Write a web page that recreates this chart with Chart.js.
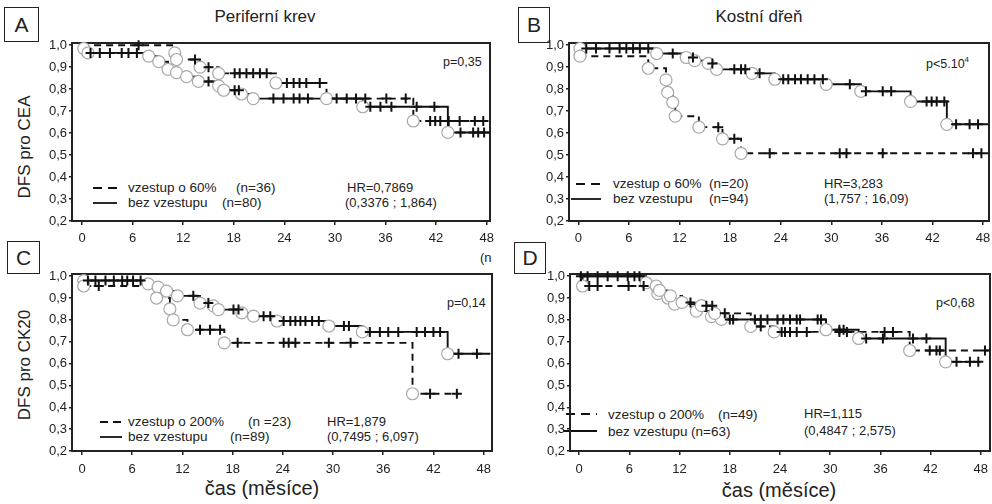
<!DOCTYPE html>
<html>
<head>
<meta charset="utf-8">
<script src="https://cdn.jsdelivr.net/npm/chart.js@4.4.1/dist/chart.umd.min.js"></script>
<style>
  html, body { margin: 0; padding: 0; background: #fff; }
  body { width: 992px; height: 504px; position: relative; overflow: hidden;
         font-family: "Liberation Sans", Arial, sans-serif; color: #222; }
  canvas { position: absolute; }
  .t { position: absolute; white-space: nowrap; transform: translateY(-50%); font-size: 13px; line-height: 16px; }
  .lg { font-size: 13.5px; }
  .c { transform: translate(-50%, -50%); }
  .title { font-size: 17px; line-height: 20px; }
  .ylab { font-size: 17px; line-height: 20px; transform: translate(-50%, -50%) rotate(-90deg); }
  .xlab { font-size: 20px; line-height: 24px; }
  .box { position: absolute; border: 1.5px solid #222; box-sizing: border-box;
         font-size: 21px; display: flex; align-items: center; justify-content: center; }
  svg { position: absolute; left: 0; top: 0; pointer-events: none; }
</style>
</head>
<body>

<div class="box" style="left:4px;top:7px;width:35px;height:35px">A</div>
<div class="box" style="left:518px;top:7px;width:32px;height:36px">B</div>
<div class="box" style="left:7px;top:241px;width:33px;height:33px">C</div>
<div class="box" style="left:514px;top:242px;width:32px;height:32px">D</div>

<div class="t c title" style="left:265px;top:17px">Periferní krev</div>
<div class="t c title" style="left:759px;top:17px">Kostní dřeň</div>

<div class="t c ylab" style="left:25px;top:147px">DFS pro CEA</div>
<div class="t c ylab" style="left:25px;top:365px">DFS pro CK20</div>
<div class="t c xlab" style="left:262px;top:488px">čas (měsíce)</div>
<div class="t c xlab" style="left:779px;top:490px">čas (měsíce)</div>

<div class="t" style="left:443px;top:62px;font-size:12.5px">p=0,35</div>
<div class="t" style="left:926px;top:62px;font-size:12.5px">p&lt;5.10<sup style="font-size:8px">4</sup></div>
<div class="t" style="left:447px;top:303px;font-size:12.5px">p=0,14</div>
<div class="t" style="left:936px;top:303px;font-size:12.5px">p&lt;0,68</div>
<div class="t" style="left:480px;top:258px">(n</div>

<div class="t lg" style="left:128px;top:188px">vzestup o 60%</div>
<div class="t lg" style="left:236px;top:188px">(n=36)</div>
<div class="t lg" style="left:128px;top:203px">bez vzestupu</div>
<div class="t lg" style="left:222px;top:203px">(n=80)</div>
<div class="t" style="left:347px;top:188px">HR=0,7869</div>
<div class="t" style="left:345px;top:203px">(0,3376 ; 1,864)</div>

<div class="t lg" style="left:613px;top:184px">vzestup o 60%</div>
<div class="t lg" style="left:709px;top:184px">(n=20)</div>
<div class="t lg" style="left:613px;top:199px">bez vzestupu</div>
<div class="t lg" style="left:709px;top:199px">(n=94)</div>
<div class="t" style="left:824px;top:184px">HR=3,283</div>
<div class="t" style="left:824px;top:199px">(1,757 ; 16,09)</div>

<div class="t lg" style="left:128px;top:422px">vzestup o 200%</div>
<div class="t lg" style="left:248px;top:422px">(n =23)</div>
<div class="t lg" style="left:128px;top:437px">bez vzestupu</div>
<div class="t lg" style="left:230px;top:437px">(n=89)</div>
<div class="t" style="left:327px;top:422px">HR=1,879</div>
<div class="t" style="left:327px;top:437px">(0,7495 ; 6,097)</div>

<div class="t lg" style="left:608px;top:415px">vzestup o 200%</div>
<div class="t lg" style="left:718px;top:415px">(n=49)</div>
<div class="t lg" style="left:608px;top:432px">bez vzestupu</div>
<div class="t lg" style="left:691px;top:432px">(n=63)</div>
<div class="t" style="left:804px;top:414px">HR=1,115</div>
<div class="t" style="left:804px;top:431px">(0,4847 ; 2,575)</div>

<svg width="992" height="504">
  <g stroke="#111" stroke-width="1.8">
    <line x1="93" y1="188" x2="117" y2="188" stroke-dasharray="9,6"/>
    <line x1="93" y1="203" x2="117" y2="203"/>
    <line x1="576" y1="184" x2="601" y2="184" stroke-dasharray="9,6"/>
    <line x1="571" y1="199" x2="601" y2="199"/>
    <line x1="100" y1="422" x2="121" y2="422" stroke-dasharray="8,5"/>
    <line x1="100" y1="437" x2="122" y2="437"/>
    <line x1="566" y1="414" x2="597" y2="414" stroke-dasharray="9,6"/>
    <line x1="563" y1="431" x2="597" y2="431"/>
  </g>
</svg>

<script>
// ticks shared by all four panels
const xTicks = [0, 6, 12, 18, 24, 30, 36, 42, 48];
const yTicks = [0.2, 0.3, 0.4, 0.5, 0.6, 0.7, 0.8, 0.9, 1.0];

// A - Periferní krev, CEA  (events = [month, DFS after drop], censored = months)
const aRiseEvents = [[11.0, 0.965], [11.2, 0.935], [14.0, 0.90], [16.2, 0.872], [23.0, 0.828], [29.0, 0.757], [39.3, 0.655]];
const aRiseCensored = [6.7, 13.4, 15.0, 18.1, 18.7, 19.5, 20.3, 21.1, 21.9, 24.3, 25.1, 25.8, 26.6, 28.2, 33.6, 36.1, 38.4, 41.3, 41.9, 42.5, 43.5, 44.8, 46.6, 47.6];
const aRiseEnd = 48.2;
const aNoRiseEvents = [[0.2, 0.985], [0.7, 0.965], [7.9, 0.95], [9.1, 0.925], [10.2, 0.89], [11.2, 0.875], [12.4, 0.857], [13.8, 0.835], [16.2, 0.815], [16.8, 0.795], [18.9, 0.778], [20.3, 0.757], [33.3, 0.72], [43.4, 0.603]];
const aNoRiseCensored = [1.0, 2.1, 3.3, 4.7, 5.5, 6.5, 15.0, 18.1, 18.6, 22.7, 23.9, 25.1, 25.8, 26.8, 30.2, 31.4, 32.5, 34.2, 35.4, 36.7, 39.7, 41.8, 44.9, 46.4, 47.0, 47.7];
const aNoRiseEnd = 48.4;

// B - Kostní dřeň, CEA
const bRiseEvents = [[0.2, 0.95], [8.3, 0.895], [10.4, 0.842], [10.6, 0.785], [11.2, 0.74], [11.5, 0.677], [14.3, 0.627], [17.1, 0.574], [19.3, 0.508]];
const bRiseCensored = [16.6, 18.5, 22.7, 31.0, 31.8, 36.1, 46.8, 47.8];
const bRiseEnd = 48.6;
const bNoRiseEvents = [[0.2, 0.985], [9.3, 0.962], [12.8, 0.944], [13.8, 0.93], [15.4, 0.917], [16.4, 0.89], [20.6, 0.872], [23.3, 0.845], [29.4, 0.822], [33.5, 0.79], [39.4, 0.744], [43.7, 0.64]];
const bNoRiseCensored = [0.95, 2.1, 3.7, 4.9, 5.7, 6.5, 7.3, 8.3, 11.2, 13.6, 15.9, 18.5, 19.3, 19.8, 21.5, 24.3, 24.9, 25.7, 26.4, 27.2, 28.0, 29.0, 32.2, 34.1, 36.1, 37.1, 41.3, 41.9, 42.5, 43.4, 44.8, 46.4, 47.4];
const bNoRiseEnd = 48.6;

// C - Periferní krev, CK20
const cRiseEvents = [[0.2, 0.955], [8.9, 0.9], [10.5, 0.85], [10.9, 0.8], [12.6, 0.755], [17.0, 0.695], [39.5, 0.462]];
const cRiseCensored = [2.0, 14.1, 15.3, 16.5, 18.6, 24.1, 24.7, 25.5, 29.5, 32.1, 41.6, 44.8];
const cRiseEnd = 45.0;
const cNoRiseEvents = [[0.2, 0.98], [7.9, 0.965], [9.1, 0.95], [10.1, 0.932], [11.4, 0.91], [14.1, 0.877], [15.7, 0.864], [16.3, 0.847], [19.1, 0.832], [20.5, 0.817], [23.3, 0.795], [29.5, 0.772], [33.5, 0.745], [43.7, 0.645]];
const cNoRiseCensored = [0.7, 1.6, 2.8, 3.8, 4.8, 5.4, 6.1, 7.0, 13.3, 15.1, 18.1, 18.7, 21.7, 22.5, 24.1, 24.9, 25.5, 26.1, 26.7, 27.5, 28.3, 31.3, 31.9, 34.4, 35.6, 36.6, 37.8, 40.0, 41.0, 42.0, 42.8, 45.0, 47.2];
const cNoRiseEnd = 48.8;

// D - Kostní dřeň, CK20
const dRiseEvents = [[0.4, 0.955], [9.6, 0.935], [10.9, 0.91], [12.3, 0.88], [14.6, 0.865], [16.2, 0.83], [20.5, 0.77], [23.3, 0.745], [39.5, 0.66]];
const dRiseCensored = [1.2, 2.2, 5.9, 7.7, 13.3, 15.2, 15.9, 17.4, 21.7, 24.2, 24.6, 25.2, 26.0, 27.2, 31.1, 32.0, 36.5, 37.5, 41.9, 42.7, 43.1, 48.5];
const dRiseEnd = 48.9;
const dNoRiseEvents = [[8.0, 0.97], [9.2, 0.955], [9.4, 0.92], [10.6, 0.9], [11.4, 0.872], [14.0, 0.84], [15.8, 0.815], [17.0, 0.802], [29.5, 0.755], [33.4, 0.715], [43.8, 0.608]];
const dNoRiseCensored = [0.2, 1.0, 2.2, 3.4, 4.6, 5.8, 6.6, 7.2, 18.0, 18.4, 21.0, 21.7, 22.5, 23.7, 24.4, 25.2, 26.0, 26.4, 28.5, 28.9, 31.1, 31.6, 34.3, 36.3, 39.9, 41.5, 45.1, 46.7, 47.7];
const dNoRiseEnd = 48.0;

Chart.defaults.font.family = '"Liberation Sans", Arial, sans-serif';
Chart.defaults.color = '#222';

function levelAt(events, t) {
    let s = 1;
    for (const [et, es] of events) if (et <= t) s = es;
    return s;
}

// one KM group -> step line + event circles + censor crosses
function curveSets(events, censored, end, dashed) {
    const line = [{ x: 0, y: 1 }]
        .concat(events.map(([x, y]) => ({ x, y })))
        .concat([{ x: end, y: levelAt(events, end) }]);
    return [
        {
            type: 'line', data: line, stepped: true, fill: false,
            borderColor: '#111', borderWidth: 1.9, borderDash: dashed ? [7, 5] : [],
            pointRadius: 0, order: 3
        },
        {
            type: 'scatter', data: events.map(([x, y]) => ({ x, y })), showLine: false,
            pointStyle: 'circle', pointRadius: 6, pointBorderWidth: 1.2,
            pointBorderColor: '#a8a8a8', pointBackgroundColor: '#fff', order: 2, clip: false
        },
        {
            type: 'scatter', data: censored.map(t => ({ x: t, y: levelAt(events, t) })), showLine: false,
            pointStyle: 'cross', pointRadius: 5, pointBorderWidth: 2,
            pointBorderColor: '#111', order: 1, clip: false
        }
    ];
}

const frame = {
    id: 'frame',
    beforeDatasetsDraw(chart) {
        const { ctx, chartArea: a } = chart;
        ctx.save();
        ctx.strokeStyle = '#222';
        ctx.lineWidth = 2;
        ctx.strokeRect(a.left, a.top, a.right - a.left, a.bottom - a.top);
        ctx.restore();
    }
};

const panels = [
    { left: 0, top: 0, width: 500, height: 250, area: { l: 72, t: 43, r: 490, b: 221 }, xMin: -1.2, xMax: 48.4, tickPad: 6,
      sets: [...curveSets(aRiseEvents, aRiseCensored, aRiseEnd, true), ...curveSets(aNoRiseEvents, aNoRiseCensored, aNoRiseEnd, false)] },
    { left: 496, top: 0, width: 503, height: 250, area: { l: 569, t: 43, r: 989, b: 221 }, xMin: -1.1, xMax: 48.7, tickPad: 6,
      sets: [...curveSets(bRiseEvents, bRiseCensored, bRiseEnd, true), ...curveSets(bNoRiseEvents, bNoRiseCensored, bNoRiseEnd, false)] },
    { left: 0, top: 250, width: 502, height: 254, area: { l: 72, t: 274, r: 492, b: 451 }, xMin: -1.2, xMax: 49.0, tickPad: 7,
      sets: [...curveSets(cRiseEvents, cRiseCensored, cRiseEnd, true), ...curveSets(cNoRiseEvents, cNoRiseCensored, cNoRiseEnd, false)] },
    { left: 496, top: 250, width: 504, height: 254, area: { l: 570, t: 274, r: 990, b: 451 }, xMin: -1.1, xMax: 49.1, tickPad: 7,
      sets: [...curveSets(dRiseEvents, dRiseCensored, dRiseEnd, true), ...curveSets(dNoRiseEvents, dNoRiseCensored, dNoRiseEnd, false)] }
];

panels.forEach(p => {
    const canvas = document.createElement('canvas');
    canvas.width = p.width;
    canvas.height = p.height;
    canvas.style.left = p.left + 'px';
    canvas.style.top = p.top + 'px';
    document.body.appendChild(canvas);

    new Chart(canvas, {
        type: 'scatter',
        data: { datasets: p.sets },
        options: {
            responsive: false,
            animation: false,
            devicePixelRatio: 1,
            layout: { padding: { left: 0, top: p.area.t - p.top, right: p.left + p.width - p.area.r, bottom: 0 } },
            plugins: { legend: { display: false }, tooltip: { enabled: false } },
            scales: {
                x: {
                    type: 'linear', min: p.xMin, max: p.xMax,
                    afterBuildTicks: s => { s.ticks = xTicks.map(v => ({ value: v })); },
                    afterFit: s => { s.height = p.top + p.height - p.area.b; },
                    grid: { drawOnChartArea: false, tickLength: 4, color: '#222', lineWidth: 1.5 },
                    border: { display: false },
                    ticks: { autoSkip: false, maxRotation: 0, padding: p.tickPad, font: { size: 13 }, callback: v => String(v) }
                },
                y: {
                    type: 'linear', min: 0.2, max: 1.01,
                    afterBuildTicks: s => { s.ticks = yTicks.map(v => ({ value: v })); },
                    afterFit: s => { s.width = p.area.l - p.left; },
                    grid: { drawOnChartArea: false, tickLength: 3, color: '#222', lineWidth: 1.5 },
                    border: { display: false },
                    ticks: { padding: 2, font: { size: 13 }, callback: v => v.toFixed(1).replace('.', ',') }
                }
            }
        },
        plugins: [frame]
    });
});
</script>
</body>
</html>
